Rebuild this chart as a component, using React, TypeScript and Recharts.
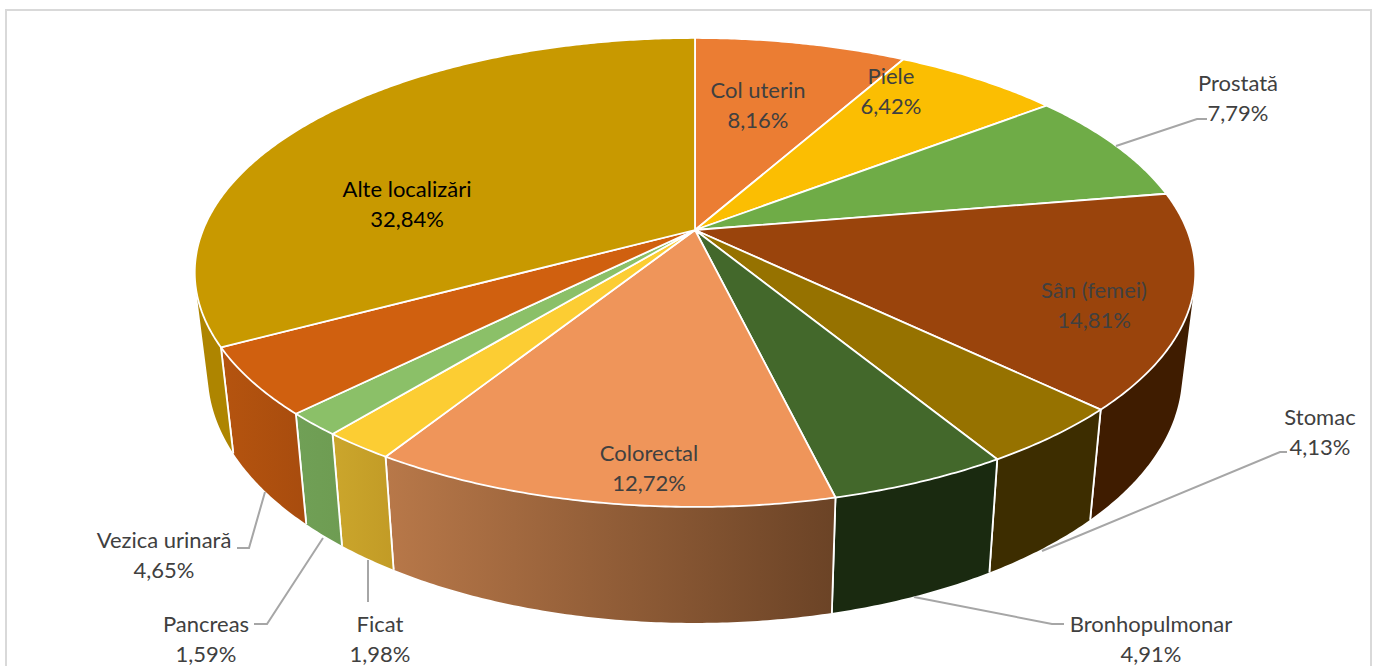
import { Pie, PieChart } from 'recharts';

const names = ['Col uterin', 'Piele', 'Prostată', 'Sân (femei)', 'Stomac', 'Bronhopulmonar', 'Colorectal', 'Ficat', 'Pancreas', 'Vezica urinară', 'Alte localizări'];
const shares = [8.16, 6.42, 7.79, 14.81, 4.13, 4.91, 12.72, 1.98, 1.59, 4.65, 32.84];

const topColors = ['#EB7D33', '#FBBE02', '#6FAC47', '#9A440C', '#967200', '#43682B', '#EF955A', '#FCCD33', '#8BC068', '#D0600F', '#C89900'];
const wallLeft = ['#EB7D33', '#FBBE02', '#6FAC47', '#3F1C00', '#3D2D00', '#1A2A10', '#B87849', '#CBA62C', '#70A056', '#B5540F', '#AE8500'];
const wallRight = ['#EB7D33', '#FBBE02', '#6FAC47', '#3F1C00', '#3D2D00', '#1A2A10', '#6B4326', '#C29B26', '#6E9C52', '#A84C0E', '#AE8500'];

const tableData = names.map((name, i) => ({ name, value: shares[i] }));

// label centre plus optional leader line
const labelLayout: { x: number; y: number; fill?: string; leader?: number[][] }[] = [
  { x: 758, y: 89 },
  { x: 891, y: 75 },
  { x: 1238, y: 82, leader: [[1116, 146], [1197, 119], [1207, 119]] },
  { x: 1094, y: 289 },
  { x: 1320, y: 416, leader: [[1042, 551], [1280, 452], [1287, 452]] },
  { x: 1151, y: 623, leader: [[914, 597], [1052, 624], [1064, 624]] },
  { x: 649, y: 452 },
  { x: 380, y: 623, leader: [[368, 560], [368, 602]] },
  { x: 206, y: 623, leader: [[323, 538], [267, 624], [254, 624]] },
  { x: 164, y: 539, leader: [[265, 492], [249, 548], [237, 548]] },
  { x: 407, y: 188, fill: '#000000' },
];

const CX = 695;
const CY = 230;
const RADIUS = 492;
const SQUASH = 226.8 / 492;
const PERSPECTIVE = 0.181;
const WALL_SHRINK = 0.974;
const FONT = 'Lato';
const FONT_SIZE = 22;

// perspective projection of a point on the flat pie circle
function project(cx: number, cy: number, r: number, deg: number) {
  const a = (deg * Math.PI) / 180;
  const u = Math.cos(a);
  const v = -Math.sin(a);
  const w = 1 - PERSPECTIVE * v;
  return { x: cx + (r * u) / w, y: cy + (r * SQUASH * v) / w, v };
}

function wallPoint(cx: number, p: { x: number; y: number; v: number }) {
  return { x: cx + (p.x - cx) * WALL_SHRINK, y: p.y + 97 + 19 * p.v };
}

function arcPoints(props: any) {
  const { cx, cy, outerRadius, startAngle, endAngle } = props;
  const pts = [];
  const n = Math.max(2, Math.ceil(Math.abs(endAngle - startAngle) * 2));
  for (let i = 0; i <= n; i++) {
    pts.push(project(cx, cy, outerRadius, startAngle + ((endAngle - startAngle) * i) / n));
  }
  return pts;
}

const toPath = (pts: { x: number; y: number }[]) =>
  pts.map((p, i) => `${i ? 'L' : 'M'}${p.x.toFixed(2)},${p.y.toFixed(2)}`).join(' ');

function TopSlice(props: any) {
  const { cx, cy, index } = props;
  const d = `M${cx},${cy} ${toPath(arcPoints(props)).replace('M', 'L')} Z`;
  return <path d={d} fill={topColors[index]} stroke="#ffffff" strokeWidth={1.8} strokeLinejoin="round" />;
}

// the wall is swept as small quads so the side silhouette comes out right
function WallSlice(props: any) {
  const { cx, index } = props;
  const top = arcPoints(props);
  const id = `wall-${index}`;
  const first = top[0];
  const last = top[top.length - 1];
  let d = '';
  for (let i = 0; i < top.length - 1; i++) {
    const quad = [top[i], top[i + 1], wallPoint(cx, top[i + 1]), wallPoint(cx, top[i])];
    let area = 0;
    quad.forEach((p, j) => {
      const q = quad[(j + 1) % 4];
      area += p.x * q.y - q.x * p.y;
    });
    d += `${toPath(area < 0 ? [...quad].reverse() : quad)} Z `;
  }
  return (
    <g>
      <defs>
        <linearGradient id={id} x1="0" y1="0" x2="1" y2="0">
          <stop offset="0" stopColor={wallLeft[index]} />
          <stop offset="1" stopColor={wallRight[index]} />
        </linearGradient>
      </defs>
      <path d={d} fill={`url(#${id})`} />
      <path d={toPath([first, wallPoint(cx, first)])} stroke="#ffffff" strokeWidth={1.8} />
      <path d={toPath([last, wallPoint(cx, last)])} stroke="#ffffff" strokeWidth={1.8} />
    </g>
  );
}

function renderLabel(props: any) {
  const { index, name, value } = props;
  const layout = labelLayout[index];
  const fill = layout.fill ?? '#404040';
  return (
    <g key={name}>
      {layout.leader && (
        <polyline points={layout.leader.map((p) => p.join(',')).join(' ')} fill="none" stroke="#a6a6a6" strokeWidth={2} />
      )}
      <text x={layout.x} y={layout.y} textAnchor="middle" dominantBaseline="central" fontFamily={FONT} fontSize={FONT_SIZE} fill={fill}>
        {name}
      </text>
      <text x={layout.x} y={layout.y + 30} textAnchor="middle" dominantBaseline="central" fontFamily={FONT} fontSize={FONT_SIZE} fill={fill}>
        {`${value.toFixed(2).replace('.', ',')}%`}
      </text>
    </g>
  );
}

export default function App() {
  return (
    <div style={{ position: 'absolute', left: 0, top: 0, width: 1373, height: 666, overflow: 'hidden', background: '#ffffff' }}>
      <style>{'body{margin:0}'}</style>
      <div style={{ position: 'absolute', left: 5, top: 9, width: 1363, height: 700, border: '2px solid #d9d9d9' }} />
      <div style={{ position: 'absolute', left: 0, top: 0 }}>
        <PieChart width={1373} height={666} margin={{ top: 0, right: 0, bottom: 0, left: 0 }}>
          <Pie
            data={tableData}
            dataKey="value"
            nameKey="name"
            cx={CX}
            cy={CY}
            innerRadius={0}
            outerRadius={RADIUS}
            startAngle={90}
            endAngle={-270}
            isAnimationActive={false}
            shape={WallSlice}
            stroke="none"
            label={false}
            labelLine={false}
          />
          <Pie
            data={tableData}
            dataKey="value"
            nameKey="name"
            cx={CX}
            cy={CY}
            innerRadius={0}
            outerRadius={RADIUS}
            startAngle={90}
            endAngle={-270}
            isAnimationActive={false}
            shape={TopSlice}
            label={renderLabel}
            labelLine={false}
          />
        </PieChart>
      </div>
    </div>
  );
}
